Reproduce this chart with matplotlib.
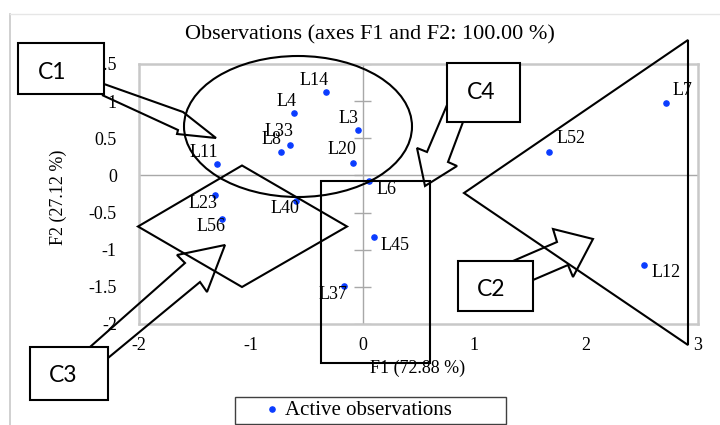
import matplotlib
matplotlib.use("Agg")
from matplotlib import pyplot as plt
from matplotlib.patches import Polygon, Ellipse, Rectangle

# observation scores on the first two factors
names = ["L14", "L4", "L3", "L33", "L8", "L20", "L11", "L6",
         "L23", "L40", "L56", "L45", "L37", "L7", "L52", "L12"]
f1 = [-0.33, -0.61, -0.04, -0.65, -0.73, -0.09, -1.30, 0.06,
      -1.32, -0.60, -1.26, 0.10, -0.17, 2.71, 1.67, 2.52]
f2 = [1.12, 0.84, 0.61, 0.41, 0.32, 0.17, 0.15, -0.08,
      -0.27, -0.34, -0.59, -0.83, -1.49, 0.97, 0.32, -1.20]
x_ticks = [-2, -1, 0, 1, 2, 3]
y_ticks = [-2, -1.5, -1, -0.5, 0, 0.5, 1, 1.5]

# label offsets in pixels (dx, dy downwards); right-side labels start after the dot
offsets = {"L14": (-12, -12), "L4": (-8, -12), "L3": (-10, -12), "L33": (-11, -13),
           "L8": (-10, -12), "L20": (-11, -13), "L11": (-13, -12), "L23": (-12, 8),
           "L40": (-11, 8), "L56": (-11, 7), "L37": (-11, 8)}
right_side = {"L6": 8, "L45": 8, "L7": -13, "L52": -13, "L12": 8}

serif = "Liberation Serif"
W, H = 720, 425
fig = plt.figure(figsize=(7.2, 4.25), dpi=100)
ax = fig.add_axes([139 / W, 1 - 324 / H, 559 / W, 260 / H])

ax.set_xlim(-2, 3)
ax.set_ylim(-2, 1.5)
for s in ax.spines.values():
    s.set_color("#c8c8c8")
    s.set_linewidth(1.8)
ax.axhline(0, color="#a8a8a8", lw=1, zorder=1)
ax.axvline(0, color="#a8a8a8", lw=1, zorder=1)
ax.hlines(y_ticks, -0.075, 0.075, color="#a8a8a8", lw=1, zorder=1)

ax.set_xticks(x_ticks)
ax.set_yticks(y_ticks)
ax.set_xticklabels([str(v) for v in x_ticks], family=serif, fontsize=13)
ax.set_yticklabels([f"{v:g}" for v in y_ticks], family=serif, fontsize=13)
ax.tick_params(axis="x", length=0, pad=9)
ax.tick_params(axis="y", length=0, pad=16)

pts = ax.scatter(f1, f2, s=14, color="#0a3cff", zorder=3, label="Active observations")

px = 72 / 100
for n, x, y in zip(names, f1, f2):
    if n in offsets:
        dx, dy = offsets[n]
        ax.annotate(n, (x, y), xytext=(dx * px, -dy * px), textcoords="offset points",
                    ha="center", va="center", family=serif, fontsize=13)
    else:
        dy = right_side[n]
        ax.annotate(n, (x, y), xytext=(7 * px, -dy * px), textcoords="offset points",
                    ha="left", va="center", family=serif, fontsize=13)

fig.text(370 / W, 1 - 35 / H, "Observations (axes F1 and F2: 100.00 %)",
         ha="center", va="center", family=serif, fontsize=16)
fig.text(418 / W, 1 - 368 / H, "F1 (72.88 %)", ha="center", va="center",
         family=serif, fontsize=13)
fig.text(58 / W, 1 - 197 / H, "F2 (27.12 %)", ha="center", va="center",
         rotation=90, family=serif, fontsize=13)

leg = fig.legend(handles=[pts], loc="center left", bbox_to_anchor=(262 / W, 1 - 410 / H),
                 prop={"family": serif, "size": 15}, frameon=False,
                 borderpad=0, handletextpad=0.1, handlelength=1.0, borderaxespad=0)

# hand-drawn annotations on top, in pixel coordinates
ov = fig.add_axes([0, 0, 1, 1])
ov.set_xlim(0, W)
ov.set_ylim(H, 0)
ov.axis("off")
ov.set_zorder(2)
ov.patch.set_visible(False)

ov.plot([10, 10], [14, H], color="#c8c8c8", lw=1.2)
ov.plot([10, W], [14, 14], color="#e6e6e6", lw=1)
# legend frame
ov.add_patch(Rectangle((235, 397), 271, 27, fill=False, edgecolor="#404040", lw=1))

lk = dict(fill=False, edgecolor="black", lw=1.5)
ov.add_patch(Ellipse((298, 126.5), 228, 141, **lk))
ov.add_patch(Polygon([(138, 226.5), (242, 165.5), (347, 226.5), (242, 287)], closed=True, **lk))
ov.add_patch(Rectangle((321, 181), 109, 182, **lk))
ov.add_patch(Polygon([(688, 40), (464, 193), (688, 345)], closed=True, **lk))

arrows = [
    [(104, 84), (183, 112), (216, 138), (177, 134), (178, 130), (102, 95)],
    [(447, 105), (427, 152), (417, 148), (425, 186), (457, 166), (448, 162), (463, 122)],
    [(513, 261), (557, 242), (553, 229), (593, 239), (573, 277), (568, 265), (533, 280)],
    [(90, 347), (185, 263), (177, 255), (225, 245), (207, 292), (200, 282), (108, 358)],
]
for a in arrows:
    ov.add_patch(Polygon(a, closed=False, fill=False, edgecolor="black", lw=1.5,
                         joinstyle="miter"))

boxes = [("C1", 18, 43, 86, 51, 52, 72), ("C4", 447, 63, 73, 59, 481, 92),
         ("C2", 458, 261, 75, 50, 491, 289), ("C3", 30, 347, 78, 53, 63, 375)]
for t, bx, by, bw, bh, tx, ty in boxes:
    ov.add_patch(Rectangle((bx, by), bw, bh, facecolor="white", edgecolor="black", lw=1.5))
    ov.text(tx, ty, t, ha="center", va="center", family="Lato", fontsize=16.5)

fig.savefig("out.png", dpi=100)
